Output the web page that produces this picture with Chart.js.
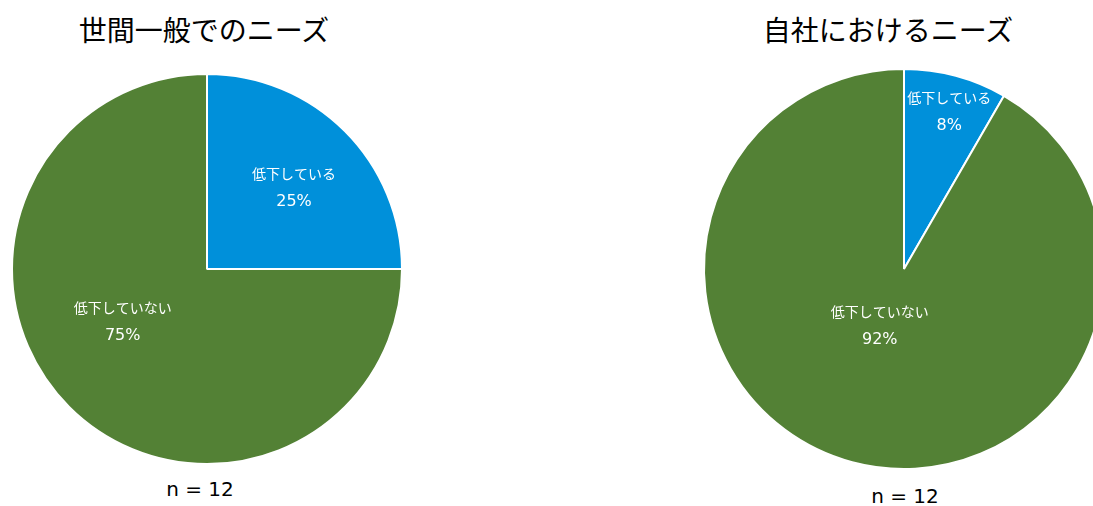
<!doctype html>
<html lang="ja">
<head>
<meta charset="utf-8">
<title>ニーズ</title>
<script src="https://cdn.jsdelivr.net/npm/chart.js@4.4.1/dist/chart.umd.min.js"></script>
<style>
	html, body { margin:0; padding:0; background:#fff; overflow:hidden; }
	body { width:1093px; height:506px; position:relative; font-family:"DejaVu Sans", "Noto Sans CJK JP", sans-serif; }
	.title { position:absolute; top:9px; font-family:"Noto Sans CJK JP", sans-serif; font-size:28px; color:#000; white-space:nowrap; transform:translateX(-50%); }
	.note { position:absolute; font-size:20px; color:#000; white-space:nowrap; transform:translateX(-50%); }
	canvas { position:absolute; }
</style>
</head>
<body>
	<div class="title" id="title1" style="left:204px;"></div>
	<div class="title" id="title2" style="left:888px;"></div>
	<canvas id="pieGeneral" style="left:1px; top:63px;"></canvas>
	<canvas id="pieCompany" style="left:693px; top:58px;"></canvas>
	<div class="note" id="note1" style="left:200px; top:477px;"></div>
	<div class="note" id="note2" style="left:905px; top:484px;"></div>
<script>
	// data
	var categories = ["低下している", "低下していない"];
	var generalCounts = [3, 9];
	var companyCounts = [1, 11];
	var chartTitles = ["世間一般でのニーズ", "自社におけるニーズ"];
	var sampleSize = 12;

	var sliceColors = ["#0090da", "#538135"];

	document.getElementById("title1").textContent = chartTitles[0];
	document.getElementById("title2").textContent = chartTitles[1];
	document.getElementById("note1").textContent = "n = " + sampleSize;
	document.getElementById("note2").textContent = "n = " + sampleSize;

	// draws "category / percent" inside each slice
	var sliceLabels = {
		id:"sliceLabels",
		afterDatasetsDraw:function(chart, args, opts)
		{
			var ctx = chart.ctx;
			var meta = chart.getDatasetMeta(0);
			var values = chart.data.datasets[0].data;
			var total = values.reduce(function(a, b) { return a + b; }, 0);
			ctx.save();
			ctx.fillStyle = "#fff";
			ctx.textAlign = "center";
			ctx.textBaseline = "middle";
			meta.data.forEach(function(arc, i)
			{
				var place = opts.places[i];
				var mid = (arc.startAngle + arc.endAngle) / 2 + (place.turn || 0) * Math.PI / 180;
				var r = arc.outerRadius * place.frac;
				var x = arc.x + Math.cos(mid) * r;
				var y = arc.y + Math.sin(mid) * r;
				ctx.font = "14px 'Noto Sans CJK JP', sans-serif";
				ctx.fillText(chart.data.labels[i], x, y - 14);
				ctx.font = "16px 'DejaVu Sans', sans-serif";
				ctx.fillText(Math.round(values[i] / total * 100) + "%", x, y + 14);
			});
			ctx.restore();
		}
	};

	function makePie(id, size, counts, places)
	{
		var canvas = document.getElementById(id);
		canvas.width = size;
		canvas.height = size;
		canvas.style.width = size + "px";
		canvas.style.height = size + "px";
		return new Chart(canvas, {
			type:"pie",
			data:{
				labels:categories,
				datasets:[{
					data:counts,
					backgroundColor:sliceColors,
					borderColor:"#ffffff",
					borderWidth:2
				}]
			},
			options:{
				responsive:false,
				animation:false,
				layout:{ padding:10 },
				plugins:{
					legend:{ display:false },
					tooltip:{ enabled:false },
					sliceLabels:{ places:places }
				}
			},
			plugins:[sliceLabels]
		});
	}

	makePie("pieGeneral", 412, generalCounts, [{ frac:0.61, turn:2 }, { frac:0.51, turn:13 }]);
	makePie("pieCompany", 422, companyCounts, [{ frac:0.82, turn:1 }, { frac:0.31, turn:8 }]);
</script>
</body>
</html>
